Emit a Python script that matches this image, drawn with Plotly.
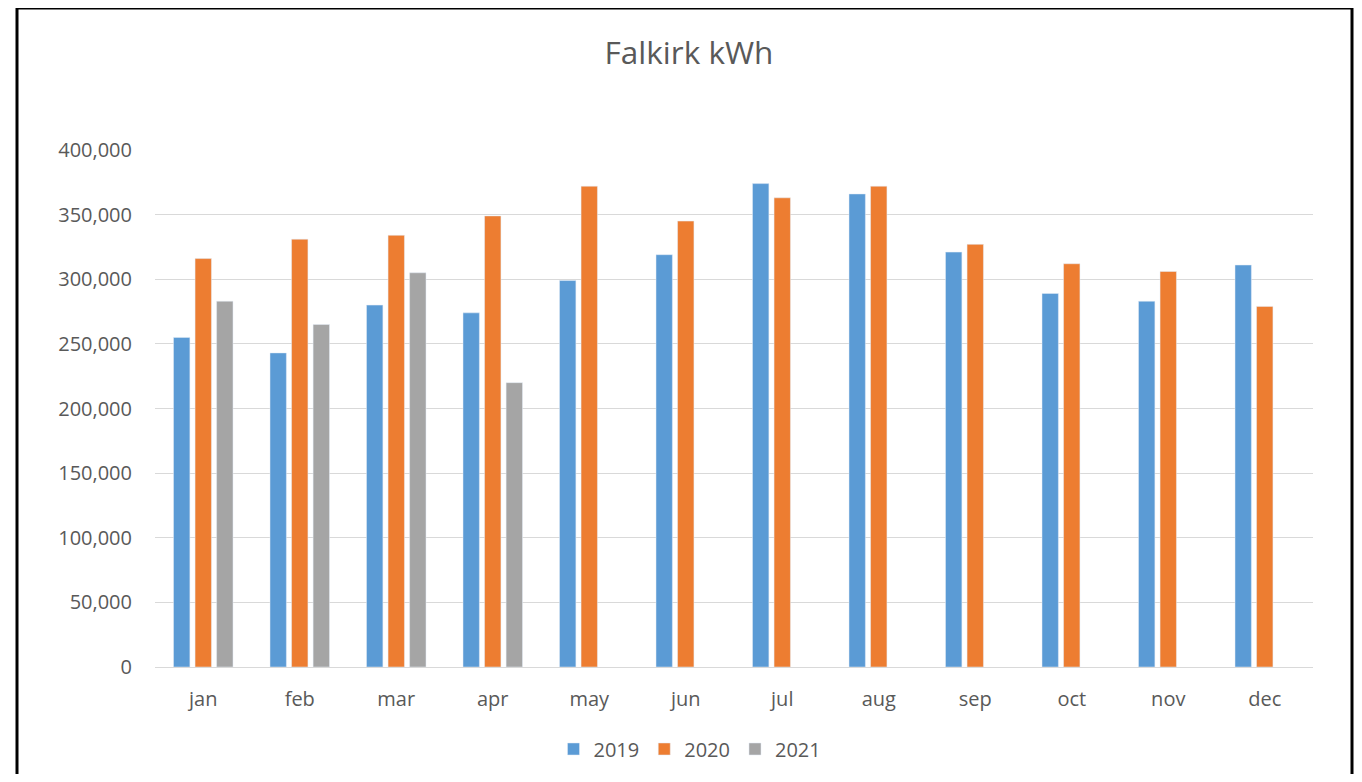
import plotly.graph_objects as go

months = ["jan", "feb", "mar", "apr", "may", "jun", "jul", "aug", "sep", "oct", "nov", "dec"]
kwh_2019 = [255000, 243000, 280000, 274000, 299000, 319000, 374000, 366000, 321000, 289000, 283000, 311000]
kwh_2020 = [316000, 331000, 334000, 349000, 372000, 345000, 363000, 372000, 327000, 312000, 306000, 279000]
kwh_2021 = [283000, 265000, 305000, 220000, None, None, None, None, None, None, None, None]
y_ticks = [0, 50000, 100000, 150000, 200000, 250000, 300000, 350000, 400000]

FONT = "Open Sans"
TXT = "#595959"

fig = go.Figure()
fig.add_bar(x=months, y=kwh_2019, name="2019", marker_color="#5B9BD5")
fig.add_bar(x=months, y=kwh_2020, name="2020", marker_color="#ED7D31")
fig.add_bar(x=months, y=kwh_2021, name="2021", marker_color="#A5A5A5")

fig.update_layout(
    width=1346, height=766,
    margin=dict(l=147, r=41, t=142, b=107, autoexpand=False),
    paper_bgcolor="white", plot_bgcolor="white",
    barmode="group", bargap=0.33, bargroupgap=0.24,
    font=dict(family=FONT, color=TXT, size=20),
    title=dict(text="Falkirk kWh", x=(689 - 155) / 1158, xref="paper", xanchor="center",
               y=1 - 45 / 766, yanchor="middle",
               font=dict(family=FONT, size=31.5, color=TXT)),
    showlegend=True,
    legend=dict(orientation="h", x=0.462, xanchor="center", y=-0.1586, yanchor="middle",
                font=dict(family=FONT, size=20, color=TXT), itemwidth=30,
                traceorder="normal"),
    xaxis=dict(showgrid=False, showline=True, linecolor="#D9D9D9", linewidth=1,
               ticks="", ticklabelstandoff=14, tickfont=dict(size=20, color=TXT),
               automargin=False),
    yaxis=dict(range=[0, 400000], tickvals=y_ticks, tickformat=",",
               showgrid=True, gridcolor="#D9D9D9", gridwidth=1, zeroline=False,
               showline=False, ticks="", ticklabelstandoff=22,
               tickfont=dict(size=20, color=TXT), automargin=False),
)

# outer frame of the chart image
fig.add_shape(type="rect", xref="paper", yref="paper",
              x0=(17 - 155) / 1158, x1=(1352 - 155) / 1158,
              y0=(667 - 800) / 517, y1=(667 - 8) / 517,
              line=dict(color="black", width=3), fillcolor="rgba(0,0,0,0)", layer="above")

fig.write_html("out.html")
